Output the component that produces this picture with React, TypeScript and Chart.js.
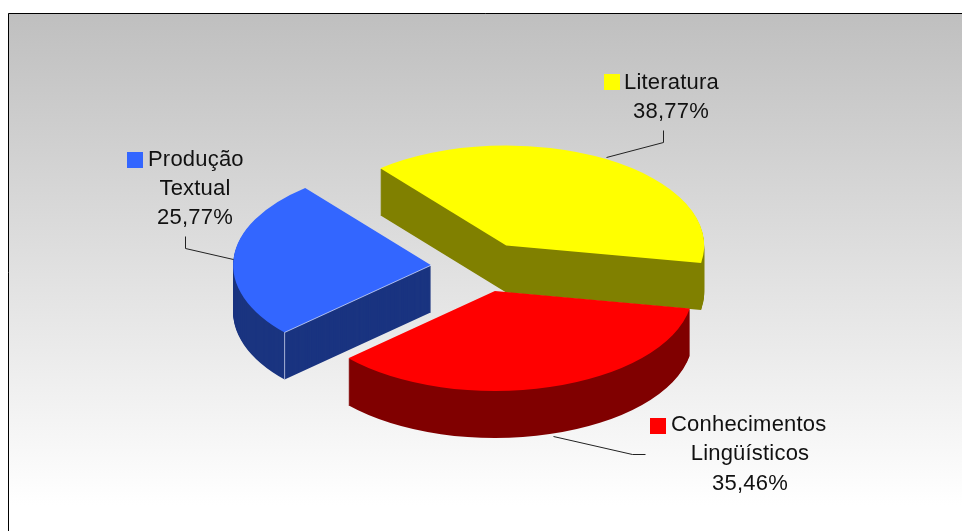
import React, { useEffect, useRef } from "react";
import { Chart, registerables } from "chart.js";

Chart.register(...registerables);

// Chart content
const categories = [["Literatura"], ["Conhecimentos", "Lingüísticos"], ["Produção", "Textual"]];
const shares = [38.77, 35.46, 25.77];
const topColors = ["#ffff00", "#ff0000", "#3366ff"];
const sideColors = ["#808000", "#800000", "#1a3480"];

// Pull-out distance of each slice, along its middle angle
const explode = [50, 50, 50];
// Back-to-front painting order
const paintOrder = [0, 2, 1];

const RADIUS = 198;
const TILT = 0.505;
const DEPTH = 47;
const CENTER_Y = 267;
const START_ROTATION = -39.5;

// Callout placement: swatch corner, first text line, centre of the lines, leader polyline
const callouts = [
  { swatch: [604, 74], firstX: 624, centerX: 671, baseline: 89, leader: [[663, 130], [663, 142], [606, 157]] },
  { swatch: [650, 418], firstX: 671, centerX: 750, baseline: 431, leader: [[553, 436], [632, 454], [645, 454]] },
  { swatch: [127, 152], firstX: 148, centerX: 195, baseline: 165.5, leader: [[185, 236], [185, 248], [233, 259]] },
];

const LINE_HEIGHT = 29.3;
const SWATCH = 16;
const FRAME = { x: 8, y: 13 };

const formatShare = (v: number) => v.toFixed(2).replace(".", ",") + "%";

// Paints the gradient panel and its frame behind everything else
const panelPlugin = {
  id: "panel",
  beforeDraw(chart: any) {
    const { ctx, width, height } = chart;
    const fill = ctx.createLinearGradient(0, FRAME.y, 0, 505);
    fill.addColorStop(0, "#bfbfbf");
    fill.addColorStop(1, "#ffffff");
    ctx.save();
    ctx.fillStyle = "#ffffff";
    ctx.fillRect(0, 0, width, height);
    ctx.fillStyle = fill;
    ctx.fillRect(FRAME.x, FRAME.y, width - FRAME.x, height - FRAME.y);
    ctx.strokeStyle = "#000000";
    ctx.lineWidth = 1;
    ctx.beginPath();
    ctx.moveTo(FRAME.x + 0.5, height);
    ctx.lineTo(FRAME.x + 0.5, FRAME.y + 0.5);
    ctx.lineTo(width, FRAME.y + 0.5);
    ctx.stroke();
    ctx.restore();
  },
};

// Draws the pie's arcs as tilted, extruded, exploded slices
const tiltedPiePlugin = {
  id: "tiltedPie",
  beforeDatasetDraw(chart: any, args: any) {
    const { ctx } = chart;
    const arcs = args.meta.data;
    const y0 = arcs[0].y;

    paintOrder.forEach((i) => {
      const arc = arcs[i];
      const mid = (arc.startAngle + arc.endAngle) / 2;
      const dx = Math.cos(mid) * explode[i];
      const dy = Math.sin(mid) * explode[i];
      const base = arc.options;

      ctx.save();
      ctx.transform(1, 0, 0, TILT, dx, CENTER_Y - y0 * TILT + dy * 0.5);

      // Walls: the same sector repeated downwards, then the lit top face
      arc.options = { ...base, backgroundColor: sideColors[i], borderWidth: 0 };
      for (let d = DEPTH; d > 0; d--) {
        ctx.save();
        ctx.translate(0, d / TILT);
        arc.draw(ctx);
        ctx.restore();
      }
      arc.options = { ...base, borderWidth: 0 };
      arc.draw(ctx);
      arc.options = base;

      // Pale highlight along the blue slice's front edge
      if (i === 2) {
        const cornerX = arc.x + Math.cos(arc.startAngle) * RADIUS;
        const cornerY = arc.y + Math.sin(arc.startAngle) * RADIUS;
        ctx.strokeStyle = "rgba(235,240,255,0.9)";
        ctx.lineWidth = 1;
        ctx.beginPath();
        ctx.moveTo(arc.x, arc.y);
        ctx.lineTo(cornerX, cornerY);
        ctx.lineTo(cornerX, cornerY + DEPTH / TILT);
        ctx.stroke();
      }
      ctx.restore();
    });
    return false;
  },
};

// Category callouts with colour swatch, value and leader line
const calloutPlugin = {
  id: "callouts",
  afterDraw(chart: any) {
    const { ctx } = chart;
    ctx.save();
    ctx.font = '22px "Liberation Sans"';
    ctx.letterSpacing = "0.2px";
    ctx.fillStyle = "#111111";
    ctx.textBaseline = "alphabetic";
    callouts.forEach((c, i) => {
      ctx.save();
      ctx.fillStyle = topColors[i];
      ctx.fillRect(c.swatch[0], c.swatch[1], SWATCH, SWATCH);
      ctx.restore();

      const lines = [...categories[i], formatShare(shares[i])];
      lines.forEach((text, n) => {
        ctx.textAlign = n === 0 ? "left" : "center";
        ctx.fillText(text, n === 0 ? c.firstX : c.centerX, c.baseline + n * LINE_HEIGHT);
      });

      ctx.strokeStyle = "#222222";
      ctx.lineWidth = 1;
      ctx.beginPath();
      c.leader.forEach(([x, y], n) => {
        if (n === 0) ctx.moveTo(x + 0.5, y + 0.5);
        else ctx.lineTo(x + 0.5, y + 0.5);
      });
      ctx.stroke();
    });
    ctx.restore();
  },
};

export default function App() {
  const canvasRef = useRef<HTMLCanvasElement>(null);

  useEffect(() => {
    const chart = new Chart(canvasRef.current!, {
      type: "pie",
      data: {
        labels: categories.map((c) => c.join(" ")),
        datasets: [
          {
            data: shares,
            backgroundColor: topColors,
            borderWidth: 0,
            clip: false,
          } as any,
        ],
      },
      options: {
        responsive: false,
        animation: false,
        radius: RADIUS,
        rotation: START_ROTATION,
        layout: { padding: 0 },
        plugins: { legend: { display: false }, tooltip: { enabled: false } },
      } as any,
      plugins: [panelPlugin, tiltedPiePlugin, calloutPlugin],
    });
    return () => chart.destroy();
  }, []);

  return (
    <canvas
      ref={canvasRef}
      width={962}
      height={531}
      style={{ position: "fixed", left: 0, top: 0, display: "block" }}
    />
  );
}
